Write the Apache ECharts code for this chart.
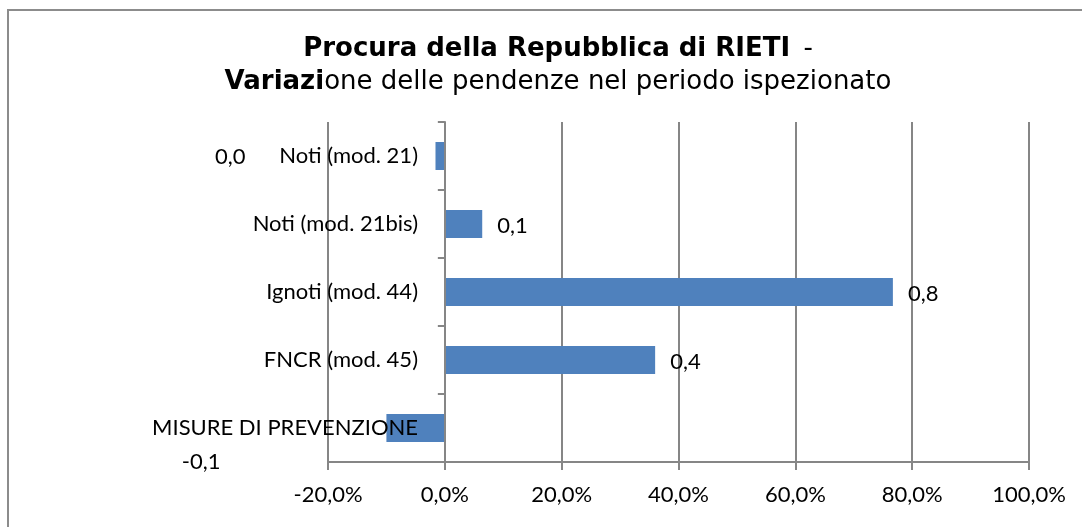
<!DOCTYPE html>
<html>
<head>
<meta charset="utf-8">
<script src="https://cdn.jsdelivr.net/npm/echarts@6/dist/echarts.min.js"></script>
<style>
  html, body { margin: 0; padding: 0; background: #fff; }
  #chart { width: 1082px; height: 527px; }
</style>
</head>
<body>
<div id="chart"></div>
<script>
  // categorie dall'alto verso il basso
  var categories = ['Noti (mod. 21)', 'Noti (mod. 21bis)', 'Ignoti (mod. 44)', 'FNCR (mod. 45)', 'MISURE DI PREVENZIONE'];
  // variazione percentuale
  var values = [-1.6, 6.4, 76.7, 36.0, -10.0];
  var xTicks = { min: -20, max: 100, interval: 20 };

  var grey = '#868686';
  var font = 'Lato';

  function fmtLabel(v) {
    var r = Math.round(v / 10) / 10;
    if (r === 0) r = 0;
    return r.toFixed(1).replace('.', ',');
  }

  // posizioni delle etichette come nel grafico originale
  var labelStyles = [
    { position: 'left', distance: 190, offset: [0, 1] },
    { position: 'right', distance: 15, offset: [0, 2] },
    { position: 'right', distance: 15, offset: [0, 2] },
    { position: 'right', distance: 15, offset: [0, 2] },
    { position: 'left', distance: 166, offset: [0, 34] }
  ];

  var seriesData = values.map(function (v, i) {
    return { value: v, label: labelStyles[i] };
  });

  var chart = echarts.init(document.getElementById('chart'));
  chart.setOption({
    animation: false,
    graphic: [{
      type: 'rect',
      shape: { x: 8, y: 10, width: 1200, height: 700 },
      style: { fill: 'none', stroke: '#8c8c8c', lineWidth: 2 }
    }],
    title: {
      left: 553,
      top: 28,
      textAlign: 'center',
      text: '{b|Procura della Repubblica di RIETI} {n| -}\n{b|Variazi}{n|one delle pendenze nel periodo ispezionato}',
      textStyle: {
        rich: {
          b: { fontFamily: 'DejaVu Sans', fontWeight: 'bold', fontSize: 26, color: '#000', lineHeight: 33 },
          n: { fontFamily: 'DejaVu Sans', fontWeight: 'normal', fontSize: 26, color: '#000', lineHeight: 33 }
        }
      }
    },
    grid: { left: 328, right: 53, top: 122, bottom: 65, containLabel: false },
    xAxis: {
      type: 'value',
      min: xTicks.min,
      max: xTicks.max,
      interval: xTicks.interval,
      axisLine: { show: true, lineStyle: { color: grey, width: 2 } },
      axisTick: { show: true, length: 8, lineStyle: { color: grey, width: 2 } },
      splitLine: { show: true, lineStyle: { color: grey, width: 2 } },
      axisLabel: {
        margin: 22,
        fontFamily: font,
        fontSize: 22,
        color: '#000',
        formatter: function (v) { return v.toFixed(1).replace('.', ',') + '%'; }
      }
    },
    yAxis: {
      type: 'category',
      inverse: true,
      z: 3,
      data: categories,
      axisLine: { show: true, onZero: true, lineStyle: { color: grey, width: 2 } },
      axisTick: { show: true, length: 7, lineStyle: { color: grey, width: 2 } },
      axisLabel: { margin: -90, fontFamily: font, fontSize: 22, color: '#000' }
    },
    series: [{
      type: 'bar',
      data: seriesData,
      barWidth: 28,
      itemStyle: { color: '#4f81bd' },
      label: {
        show: true,
        fontFamily: font,
        fontSize: 22,
        color: '#000',
        formatter: function (p) { return fmtLabel(p.value); }
      }
    }]
  });
</script>
</body>
</html>
